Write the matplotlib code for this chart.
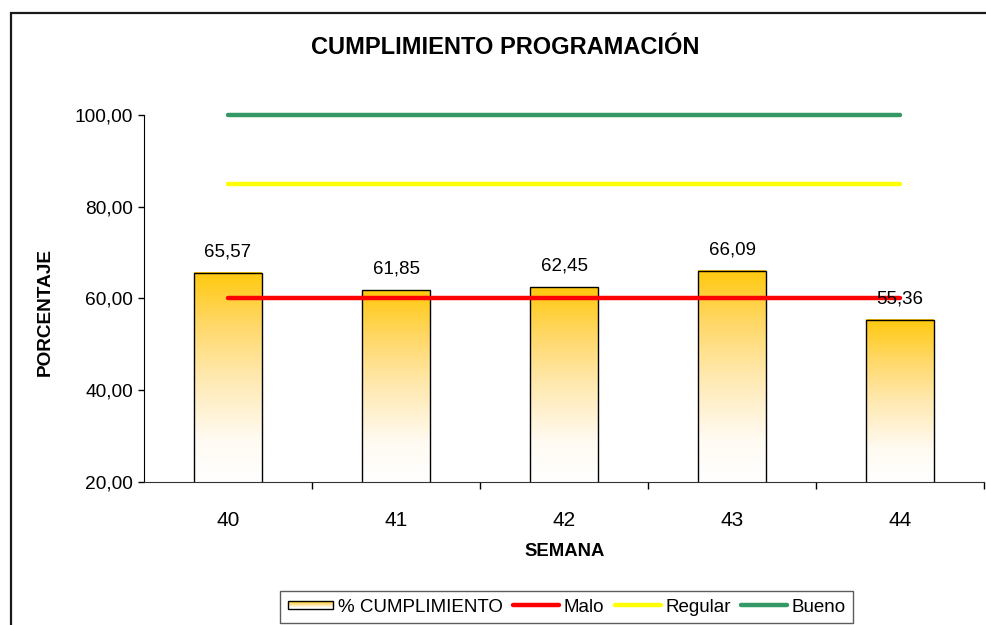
import numpy as np
import matplotlib
matplotlib.use("Agg")
import matplotlib.pyplot as plt
from matplotlib.patches import Rectangle
from matplotlib.colors import LinearSegmentedColormap
from matplotlib.legend_handler import HandlerBase
from matplotlib.container import BarContainer

# ---- data ----
weeks = [40, 41, 42, 43, 44]
cumplimiento = [65.57, 61.85, 62.45, 66.09, 55.36]
malo = [60, 60, 60, 60, 60]
regular = [85, 85, 85, 85, 85]
bueno = [100, 100, 100, 100, 100]
yticks = [20, 40, 60, 80, 100]
title = "CUMPLIMIENTO PROGRAMACIÓN"
ylabel = "PORCENTAJE"
xlabel = "SEMANA"
legend_labels = ["% CUMPLIMIENTO", "Malo", "Regular", "Bueno"]

plt.rcParams['font.family'] = ['Liberation Sans', 'DejaVu Sans']

W, H = 987, 625
fig = plt.figure(figsize=(W / 100, H / 100), dpi=100)
fig.patch.set_facecolor('white')

# outer chart border (extends beyond right & bottom)
fig.patches.append(Rectangle((11 / W, -0.1), 1.2, 1 - 12.5 / H + 0.1,
                             transform=fig.transFigure, fill=False,
                             edgecolor='#1a1a1a', linewidth=1.6, zorder=0))

ax = fig.add_axes([144 / W, 1 - 482 / H, (984 - 144) / W, (482 - 115) / H])
ax.set_facecolor('none')

cmap = LinearSegmentedColormap.from_list(
    'grad', [(0.0, '#FFFFFF'), (0.2, '#FFFBF3'), (0.5, '#FFE9B0'),
             (0.75, '#FFD868'), (1.0, '#FFC90E')])

ymin, ymax = yticks[0], yticks[-1]

bars = ax.bar(weeks, cumplimiento, width=0.4, facecolor='none',
              edgecolor='black', linewidth=1.0, zorder=3)
grad = np.linspace(0, 1, 256).reshape(-1, 1)
for rect in bars:
    x0 = rect.get_x()
    x1 = x0 + rect.get_width()
    top = rect.get_height()
    ax.imshow(grad, cmap=cmap, origin='lower', aspect='auto',
              extent=[x0, x1, ymin, top], zorder=2, interpolation='bilinear')
ax.set_xlim(weeks[0] - 0.5, weeks[-1] + 0.5)
ax.set_ylim(ymin, ymax)

l1, = ax.plot(weeks, malo, color='#FF0000', linewidth=3.2,
              solid_capstyle='round', clip_on=False, zorder=4)
l2, = ax.plot(weeks, regular, color='#FFFF00', linewidth=3.2,
              solid_capstyle='round', clip_on=False, zorder=4)
l3, = ax.plot(weeks, bueno, color='#339966', linewidth=3.2,
              solid_capstyle='round', clip_on=False, zorder=4)

for x, v in zip(weeks, cumplimiento):
    ax.annotate(f"{v:.2f}".replace('.', ','), (x, v), xytext=(0, 15),
                textcoords='offset points', ha='center', va='center',
                fontsize=13.5, color='black', zorder=6)

# axes styling
for s in ['top', 'right']:
    ax.spines[s].set_visible(False)
ax.spines['left'].set_color('black')
ax.spines['bottom'].set_color('#333333')
ax.set_yticks(yticks)
ax.set_yticklabels([f"{v:.2f}".replace('.', ',') for v in yticks], fontsize=13.8)
ax.tick_params(axis='y', direction='out', length=4, width=1, pad=4)
ax.set_xticks(weeks)
ax.set_xticklabels([str(w) for w in weeks], fontsize=15)
ax.tick_params(axis='x', which='major', length=0, pad=21)
ax.set_xticks([w + 0.5 for w in weeks], minor=True)
ax.tick_params(axis='x', which='minor', direction='out', length=5, width=1)

fig.text(505 / W, 1 - 48 / H, title, ha='center', va='center',
         fontsize=17, fontweight='bold')
fig.text(45 / W, 1 - 312 / H, ylabel, ha='center', va='center',
         rotation=90, fontsize=13.7, fontweight='bold')
fig.text(565 / W, 1 - 551 / H, xlabel, ha='center', va='center',
         fontsize=13.3, fontweight='bold')


class GradientHandler(HandlerBase):
    def create_artists(self, legend, orig_handle, xdescent, ydescent,
                       width, height, fontsize, trans):
        n = 14
        h = height * 0.6
        y0 = -ydescent + (height - h) / 2
        arts = []
        for i in range(n):
            arts.append(Rectangle((-xdescent, y0 + i * h / n), width, h / n + 0.05,
                                  facecolor=cmap(i / (n - 1)), edgecolor='none',
                                  transform=trans))
        arts.append(Rectangle((-xdescent, y0), width, h, fill=False,
                              edgecolor='black', linewidth=1.0, transform=trans))
        return arts


leg = fig.legend([bars, l1, l2, l3], legend_labels, loc='upper left',
                 bbox_to_anchor=(280 / W, 1 - 591 / H), ncol=4, fontsize=13.5,
                 frameon=True, fancybox=False, edgecolor='#333333',
                 handlelength=2.45, handletextpad=0.25, columnspacing=0.55,
                 borderpad=0.4, borderaxespad=0,
                 handler_map={BarContainer: GradientHandler()})
leg.get_frame().set_linewidth(1.0)

fig.savefig('out.png', dpi=100, facecolor='white')
